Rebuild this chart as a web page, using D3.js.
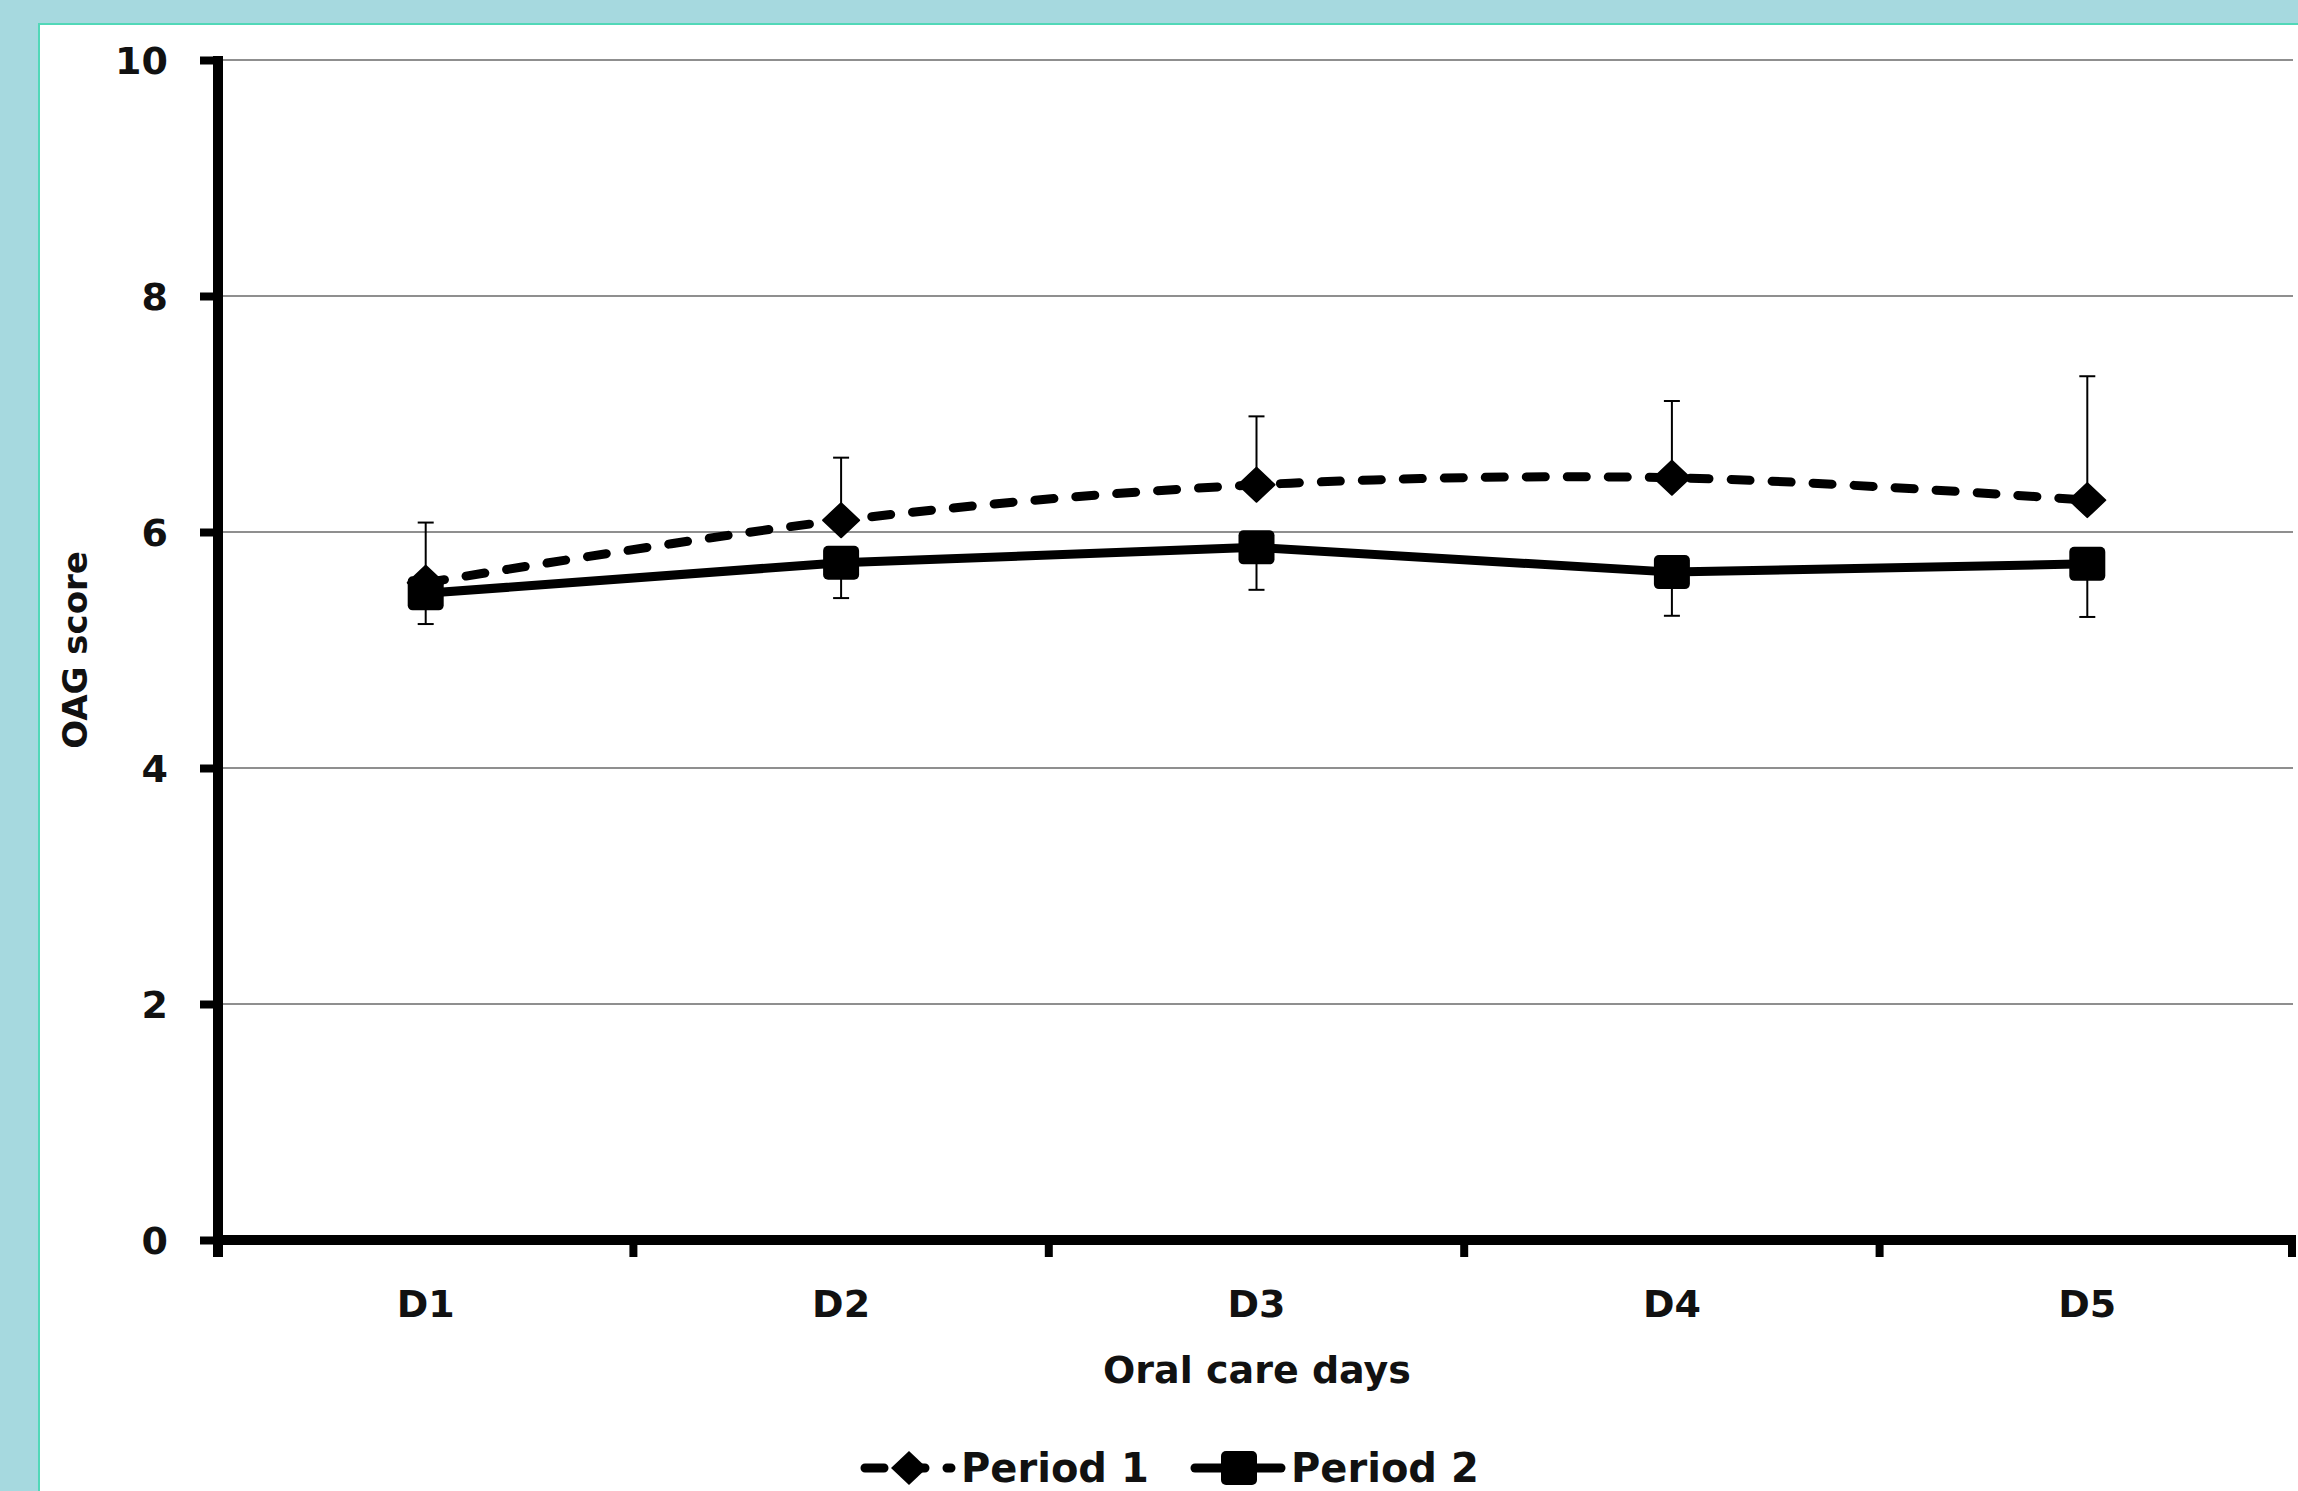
<!DOCTYPE html>
<html>
<head>
<meta charset="utf-8">
<script src="https://cdn.jsdelivr.net/npm/d3@7"></script>
<style>
  html, body { margin: 0; padding: 0; background: #a6d9df; }
  svg { display: block; }
</style>
</head>
<body>
<div id="chart"></div>
<script>
// Data
const days = ['D1', 'D2', 'D3', 'D4', 'D5'];
const period1 = [5.57, 6.10, 6.40, 6.46, 6.27];
const period1Err = [0.51, 0.53, 0.58, 0.65, 1.05];   // upper bars only
const period2 = [5.48, 5.74, 5.87, 5.66, 5.73];
const period2Err = [0.26, 0.30, 0.36, 0.37, 0.45];   // lower bars only
const yTicks = [0, 2, 4, 6, 8, 10];
const seriesNames = ['Period 1', 'Period 2'];

const W = 2298, H = 1491;
const FONT = '"DejaVu Sans", Verdana, sans-serif';

const svg = d3.select('#chart').append('svg')
  .attr('width', W)
  .attr('height', H);

// panel
svg.append('rect')
  .attr('x', 0).attr('y', 0).attr('width', W).attr('height', H)
  .attr('fill', '#a6d9df');
svg.append('rect')
  .attr('x', 39).attr('y', 24).attr('width', W).attr('height', H)
  .attr('fill', '#ffffff')
  .attr('stroke', '#52d8b8')
  .attr('stroke-width', 2);

const x = d3.scaleBand().domain(days).range([218, 2295]);
const y = d3.scaleLinear().domain([0, 10]).range([1240, 60]);
const cx = (d) => x(d) + x.bandwidth() / 2;

const g = svg.append('g');

// gridlines
g.selectAll('line.grid')
  .data(yTicks.filter((t) => t > 0))
  .enter()
  .append('line')
  .attr('class', 'grid')
  .attr('x1', 223)
  .attr('x2', 2293)
  .attr('y1', (d) => y(d))
  .attr('y2', (d) => y(d))
  .attr('stroke', '#8f8f8f')
  .attr('stroke-width', 2);

// y axis
const yAxis = g.append('g')
  .attr('transform', 'translate(218,0)')
  .call(d3.axisLeft(y).tickValues(yTicks).tickSize(18).tickSizeOuter(0).tickPadding(32));
yAxis.select('.domain').attr('stroke', '#000').attr('stroke-width', 10)
  .attr('d', `M0,${y(10) - 4}V${y(0) + 17}`);
yAxis.selectAll('.tick line').attr('stroke', '#000').attr('stroke-width', 8);
yAxis.selectAll('.tick text')
  .attr('font-family', FONT)
  .attr('font-weight', 'bold')
  .attr('font-size', 38)
  .attr('fill', '#111')
  .attr('dy', '0.36em');

// x axis
const xEdges = days.map((d) => x(d)).concat([x.range()[1]]);
g.append('line')
  .attr('x1', 213).attr('x2', 2296)
  .attr('y1', y(0)).attr('y2', y(0))
  .attr('stroke', '#000').attr('stroke-width', 10);
g.selectAll('line.xtick')
  .data(xEdges.slice(1))
  .enter()
  .append('line')
  .attr('class', 'xtick')
  .attr('x1', (d, i) => (i === xEdges.length - 2 ? d - 3 : d))
  .attr('x2', (d, i) => (i === xEdges.length - 2 ? d - 3 : d))
  .attr('y1', y(0))
  .attr('y2', y(0) + 17)
  .attr('stroke', '#000').attr('stroke-width', 8);
g.selectAll('text.xlabel')
  .data(days)
  .enter()
  .append('text')
  .attr('class', 'xlabel')
  .attr('x', (d) => cx(d))
  .attr('y', 1317)
  .attr('text-anchor', 'middle')
  .attr('font-family', FONT)
  .attr('font-weight', 'bold')
  .attr('font-size', 38)
  .attr('fill', '#111')
  .text((d) => d);

// axis titles
svg.append('text')
  .attr('x', 1257)
  .attr('y', 1383)
  .attr('text-anchor', 'middle')
  .attr('font-family', FONT)
  .attr('font-weight', 'bold')
  .attr('font-size', 38)
  .attr('fill', '#111')
  .text('Oral care days');
svg.append('text')
  .attr('transform', 'translate(87,650) rotate(-90)')
  .attr('text-anchor', 'middle')
  .attr('font-family', FONT)
  .attr('font-weight', 'bold')
  .attr('font-size', 34)
  .attr('fill', '#111')
  .text('OAG score');

// error bars
function errorBars(vals, errs, dir) {
  const eg = g.append('g');
  days.forEach((d, i) => {
    const y0 = y(vals[i]);
    const y1 = y(vals[i] + dir * errs[i]);
    eg.append('line')
      .attr('x1', cx(d)).attr('x2', cx(d))
      .attr('y1', y0).attr('y2', y1)
      .attr('stroke', '#000').attr('stroke-width', 2);
    eg.append('line')
      .attr('x1', cx(d) - 8).attr('x2', cx(d) + 8)
      .attr('y1', y1).attr('y2', y1)
      .attr('stroke', '#000').attr('stroke-width', 2);
  });
}
errorBars(period1, period1Err, 1);
errorBars(period2, period2Err, -1);

// lines
const line1 = d3.line().x((d, i) => cx(days[i])).y((d) => y(d)).curve(d3.curveCatmullRom);
const line2 = d3.line().x((d, i) => cx(days[i])).y((d) => y(d));

g.append('path')
  .attr('d', line1(period1))
  .attr('fill', 'none')
  .attr('stroke', '#000')
  .attr('stroke-width', 9)
  .attr('stroke-linecap', 'round')
  .attr('stroke-dasharray', '19,22');

const diamond = (s) => `M0,${-s}L${s + 1},0L0,${s}L${-s - 1},0Z`;
g.selectAll('path.diamond')
  .data(period1)
  .enter()
  .append('path')
  .attr('class', 'diamond')
  .attr('transform', (d, i) => `translate(${cx(days[i])},${y(d)})`)
  .attr('d', diamond(17))
  .attr('fill', '#000')
  .attr('stroke', '#000')
  .attr('stroke-width', 2)
  .attr('stroke-linejoin', 'round');

g.append('path')
  .attr('d', line2(period2))
  .attr('fill', 'none')
  .attr('stroke', '#000')
  .attr('stroke-width', 9)
  .attr('stroke-linejoin', 'round');

g.selectAll('rect.square')
  .data(period2)
  .enter()
  .append('rect')
  .attr('class', 'square')
  .attr('x', (d, i) => cx(days[i]) - 18)
  .attr('y', (d) => y(d) - 17)
  .attr('width', 36)
  .attr('height', 34)
  .attr('rx', 5)
  .attr('fill', '#000');

// legend
const legend = svg.append('g').attr('transform', 'translate(0,1468)');
const items = [
  { name: seriesNames[0], x0: 861, dash: '19,22', marker: 'diamond' },
  { name: seriesNames[1], x0: 1191, dash: null, marker: 'square' }
];
items.forEach((it) => {
  const lg = legend.append('g').attr('transform', `translate(${it.x0},0)`);
  lg.append('line')
    .attr('x1', 4).attr('x2', 90)
    .attr('y1', 0).attr('y2', 0)
    .attr('stroke', '#000')
    .attr('stroke-width', 9)
    .attr('stroke-linecap', 'round')
    .attr('stroke-dasharray', it.dash);
  if (it.marker === 'diamond') {
    lg.append('path')
      .attr('transform', 'translate(48,0)')
      .attr('d', diamond(17))
      .attr('fill', '#000');
  } else {
    lg.append('rect')
      .attr('x', 30).attr('y', -17)
      .attr('width', 36).attr('height', 34)
      .attr('rx', 5)
      .attr('fill', '#000');
  }
  lg.append('text')
    .attr('x', 100)
    .attr('y', 14)
    .attr('font-family', FONT)
    .attr('font-weight', 'bold')
    .attr('font-size', 40)
    .attr('fill', '#111')
    .text(it.name);
});
</script>
</body>
</html>
